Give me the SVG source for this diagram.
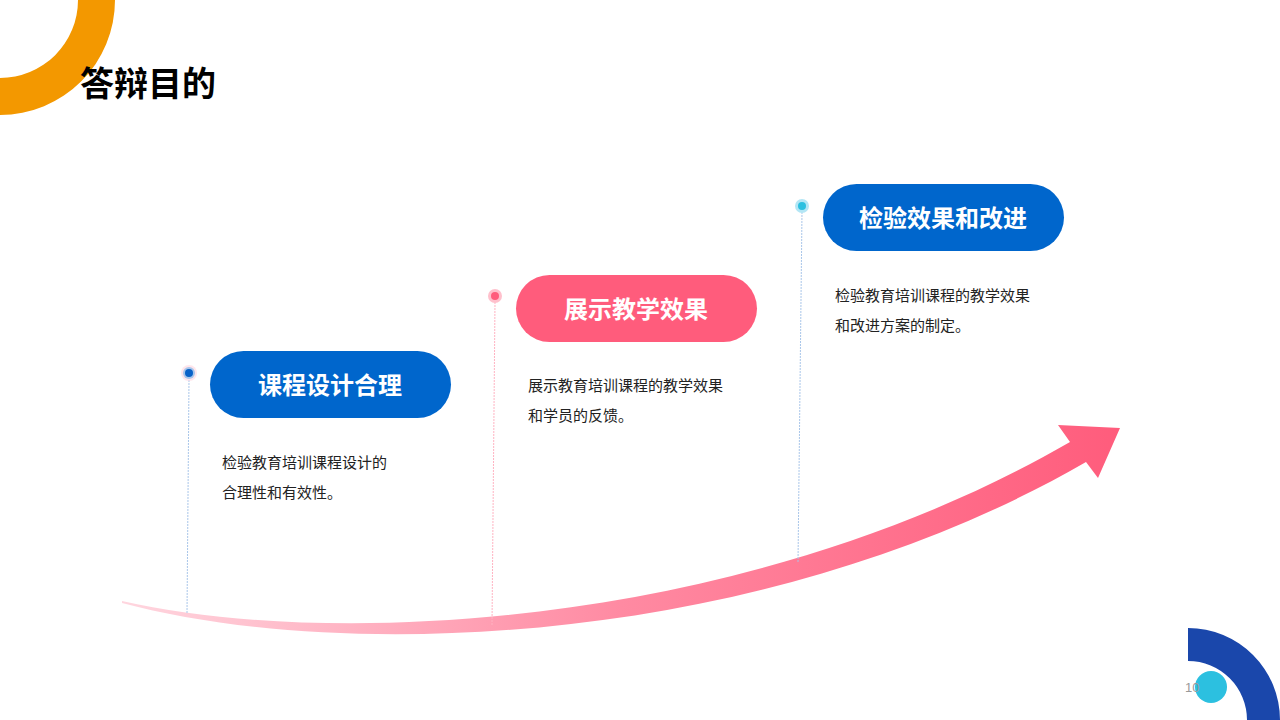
<svg xmlns="http://www.w3.org/2000/svg" width="1280" height="720" viewBox="0 0 1280 720">
<defs>
<linearGradient id="ag" x1="122" y1="0" x2="1120" y2="0" gradientUnits="userSpaceOnUse">
<stop offset="0" stop-color="#ffd6df"/><stop offset="0.5" stop-color="#ff8aa2"/><stop offset="1" stop-color="#ff5c7c"/>
</linearGradient>
<style>
.pill{font-family:"Noto Sans CJK SC","Noto Sans",sans-serif;font-weight:bold;font-size:24px;fill:#fff;text-anchor:middle}
.body{font-family:"Noto Sans CJK SC","Noto Sans",sans-serif;font-size:15px;fill:#222}
.vl{stroke-width:1;stroke-dasharray:2 1}
</style>
</defs>
<rect width="1280" height="720" fill="#fff"/>
<path d="M0,-40 A115,115 0 0 1 115,0 A115,115 0 0 1 0,115 L0,78 A78,78 0 0 0 78,0 L0,0 Z" fill="#f39800"/>
<path d="M0,0 A115,115 0 0 1 0,115 L0,75 A75,75 0 0 0 75,0 Z" fill="#f39800" transform="translate(40,0)" opacity="0"/>
<text x="80" y="96" font-family="'Noto Sans CJK SC',sans-serif" font-weight="bold" font-size="34" fill="#000">答辩目的</text>
<path d="M1188,628 A92,92 0 0 1 1280,720 L1247,720 A59,59 0 0 0 1188,661 Z" fill="#1a47ab"/>
<circle cx="1211" cy="687" r="16" fill="#2cc0e0"/>
<text x="1185" y="692" font-family="'Liberation Sans',sans-serif" font-size="13" fill="#999">10</text>
<g id="connectors">
<path d="M122,601 C350,652 760,622 1070,442 L1058,425 L1120,428 L1098,478 L1086,462 C770,645 350,664 122,603 Z" fill="url(#ag)"/>
<line class="vl" x1="189" y1="380" x2="187" y2="614" stroke="#a9c6ea"/>
<line class="vl" x1="495" y1="302" x2="492" y2="625" stroke="#ffb3c2"/>
<line class="vl" x1="802" y1="212" x2="798" y2="563" stroke="#a9c6ea"/>
</g>
<g id="node1">
<circle cx="189" cy="373" r="8" fill="#ffd6df" opacity="0.6"/><circle cx="189" cy="373" r="6" fill="#a9c6ea"/><circle cx="189" cy="373" r="4" fill="#0a62c8"/>
<rect x="210" y="351" width="241" height="67" rx="33.5" fill="#0066cc"/>
<text class="pill" x="330" y="394">课程设计合理</text>
<text class="body" x="222" y="468">检验教育培训课程设计的</text>
<text class="body" x="222" y="498">合理性和有效性。</text>
</g>
<g id="node2">
<circle cx="495" cy="296" r="7" fill="#ffc0cc"/><circle cx="495" cy="296" r="4" fill="#ff5c7c"/>
<rect x="516" y="275" width="241" height="67" rx="33.5" fill="#ff5c7c"/>
<text class="pill" x="636" y="318">展示教学效果</text>
<text class="body" x="528" y="391">展示教育培训课程的教学效果</text>
<text class="body" x="528" y="421">和学员的反馈。</text>
</g>
<g id="node3">
<circle cx="802" cy="206" r="7" fill="#b3e6f5"/><circle cx="802" cy="206" r="4" fill="#2cc0e0"/>
<rect x="823" y="184" width="241" height="67" rx="33.5" fill="#0066cc"/>
<text class="pill" x="943" y="227">检验效果和改进</text>
<text class="body" x="835" y="301">检验教育培训课程的教学效果</text>
<text class="body" x="835" y="331">和改进方案的制定。</text>
</g>
</svg>
